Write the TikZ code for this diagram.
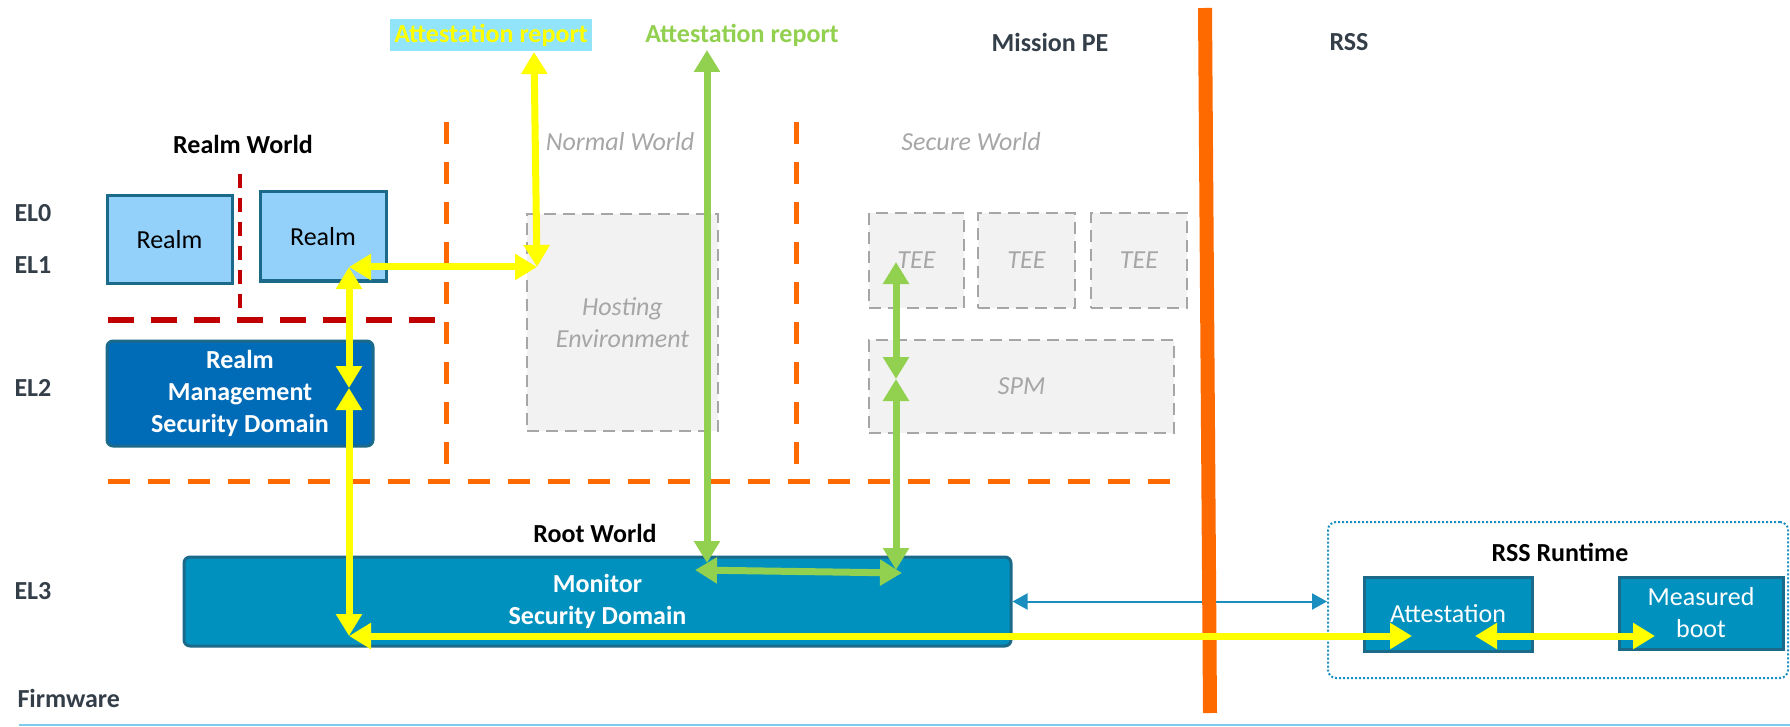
\documentclass[tikz,border=0pt]{standalone}
\usepackage{fontspec}
\setmainfont{Carlito}
\usepackage{tikz}
\usetikzlibrary{arrows.meta,positioning}
\definecolor{rmOrange}{HTML}{FF6A00}
\definecolor{rmRed}{HTML}{C00000}
\definecolor{rmYellow}{HTML}{FFFF00}
\definecolor{rmGreen}{HTML}{92D050}
\definecolor{rmCyan}{HTML}{92E4FA}
\definecolor{rmLight}{HTML}{93D1FB}
\definecolor{rmEdge}{HTML}{1B6A8A}
\definecolor{rmDeep}{HTML}{006BB6}
\definecolor{rmTeal}{HTML}{0091BE}
\definecolor{rmLine}{HTML}{1A8FBF}
\definecolor{rmGreyFill}{HTML}{F2F2F2}
\definecolor{rmGrey}{HTML}{A6A6A6}
\definecolor{rmText}{HTML}{333E48}
\definecolor{rmRule}{HTML}{7FCBEE}

\begin{document}
\begin{tikzpicture}[x=1pt,y=-1pt,font=\fontsize{26}{32}\selectfont,
    elabel/.style={anchor=west, font=\fontsize{26}{32}\selectfont\bfseries, text=rmText},
    heading/.style={font=\fontsize{26}{32}\selectfont\bfseries},
    worldname/.style={font=\fontsize{26}{32}\selectfont\itshape, text=rmGrey},
    ghost/.style={draw=rmGrey, line width=2.5pt, dash pattern=on 12pt off 7pt, fill=rmGreyFill, text=rmGrey, font=\fontsize{26}{32}\selectfont\itshape, align=center, inner sep=0pt},
    realmbox/.style={draw=rmEdge, line width=3pt, fill=rmLight, inner sep=0pt},
    secdomain/.style={draw=rmEdge, line width=3pt, rounded corners=6pt, text=white, font=\fontsize{26}{32}\selectfont\bfseries, align=center, inner sep=0pt},
    service/.style={draw=rmEdge, line width=3pt, fill=rmTeal, text=white, align=center, inner sep=0pt},
    wallline/.style={rmOrange, line width=5pt, dash pattern=on 22pt off 18pt},
    yellowlink/.style={rmYellow, line width=7pt, {Triangle[length=22pt,width=25pt]}-{Triangle[length=22pt,width=25pt]}},
    greenlink/.style={rmGreen, line width=7pt, {Triangle[length=22pt,width=25pt]}-{Triangle[length=22pt,width=25pt]}}]
    \useasboundingbox (0,0) rectangle (1790,727);

    % Exception levels
    \node[elabel] at (11,213) (el0) {EL0};
    \node[elabel] at (11,265) (el1) {EL1};
    \node[elabel] at (11,388) (el2) {EL2};
    \node[elabel] at (11,591) (el3) {EL3};
    \node[elabel] at (14,698) (fw) {Firmware};
    \draw[rmRule, line width=2.5pt] (19,725) -- (1790,725);

    % Headings
    \node[heading, text=rmText] at (1050,42) (pe) {Mission PE};
    \node[heading, text=rmText] at (1349,42) (rss) {RSS};
    \node[heading] at (243,144) (realmworld) {Realm World};
    \node[worldname] at (620,142) (normal) {Normal World};
    \node[worldname] at (971,142) (secure) {Secure World};
    \node[heading] at (595,533) (root) {Root World};
    \node[heading, fill=rmCyan, text=rmYellow, minimum width=202pt, minimum height=32pt, inner sep=0pt] at (491,35) (yreport) {Attestation report};
    \node[heading, text=rmGreen] at (742,35) (greport) {Attestation report};

    % Realm world
    \node[realmbox, minimum width=125pt, minimum height=87pt] at (169.5,239.5) (realmA) {Realm};
    \node[realmbox, minimum width=126pt, minimum height=89pt] at (323,236.5) (realmB) {Realm};
    \node[secdomain, fill=rmDeep, minimum width=266pt, minimum height=105pt] at (240,393.5) (rmsd) {Realm\\Management\\Security Domain};

    % Normal and secure world
    \node[ghost, minimum width=191pt, minimum height=217pt] at (622.5,322.5) (hosting) {Hosting\\Environment};
    \node[ghost, minimum width=95pt, minimum height=95pt] at (916.5,260.5) (teeA) {TEE};
    \node[ghost, minimum width=97pt, minimum height=95pt] at (1026.5,260.5) (teeB) {TEE};
    \node[ghost, minimum width=96pt, minimum height=95pt] at (1139,260.5) (teeC) {TEE};
    \node[ghost, minimum width=305pt, minimum height=93pt] at (1021.5,386.5) (spm) {SPM};

    % Root world
    \node[secdomain, fill=rmTeal, minimum width=827pt, minimum height=89pt] at (597.5,601.5) (monitor) {Monitor\\Security Domain};

    % RSS side
    \node[draw=rmLine, line width=2pt, dotted, rounded corners=8pt, minimum width=460pt, minimum height=156pt] at (1558,600) (rssrt) {};
    \node[heading] at (1560,552) (rsstitle) {RSS Runtime};
    \node[service, minimum width=168pt, minimum height=74pt] at (1448,614) (attest) {Attestation};
    \node[service, minimum width=164pt, minimum height=72pt] at (1701,613) (mboot) {Measured\\boot};

    % World borders
    \draw[rmRed, line width=4.5pt, dash pattern=on 14pt off 10pt] (240,174) -- (240,320);
    \draw[rmRed, line width=6pt, dash pattern=on 26pt off 17pt] (108,320) -- (445,320);
    \draw[wallline] (446,122) -- (446,481);
    \draw[wallline] (796,122) -- (796,481);
    \draw[wallline] (108,481) -- (1174,481);

    \draw[rmLine, line width=2pt, {Triangle[length=15pt,width=16pt]}-{Triangle[length=15pt,width=16pt]}] (monitor.east) -- (monitor.east -| rssrt.west);
    \draw[rmOrange, line width=14pt] (1205,8) -- (1210,713);

    % Attestation paths
    \coordinate (yTop) at (534,52);
    \coordinate (yHost) at (537,267);
    \coordinate (yRealm) at (349,267);
    \coordinate (yRmsd) at (349,388);
    \coordinate (yMon) at (349,636);
    \coordinate (yAtt) at (1412,636);
    \coordinate (yAttR) at (1475,636);
    \coordinate (yBoot) at (1655,636);
    \coordinate (gTop) at (707,50);
    \coordinate (gMon) at (707,563);
    \coordinate (gMonL) at (695,570);
    \coordinate (gMonR) at (902,573);
    \coordinate (gTee) at (896,262);
    \coordinate (gSpm) at (896,379);
    \coordinate (gSpmMon) at (896,570);

    \draw[greenlink] (gTop) -- (gMon);
    \draw[greenlink] (gMonL) -- (gMonR);
    \draw[greenlink] (gTee) -- (gSpm);
    \draw[greenlink] (gSpm) -- (gSpmMon);

    \draw[yellowlink] (yTop) -- (yHost);
    \draw[yellowlink] (yRealm) -- (yHost);
    \draw[yellowlink] (yRealm) -- (yRmsd);
    \draw[yellowlink] (yRmsd) -- (yMon);
    \draw[yellowlink] (yMon) -- (yAtt);
    \draw[yellowlink] (yAttR) -- (yBoot);
\end{tikzpicture}
\end{document}
